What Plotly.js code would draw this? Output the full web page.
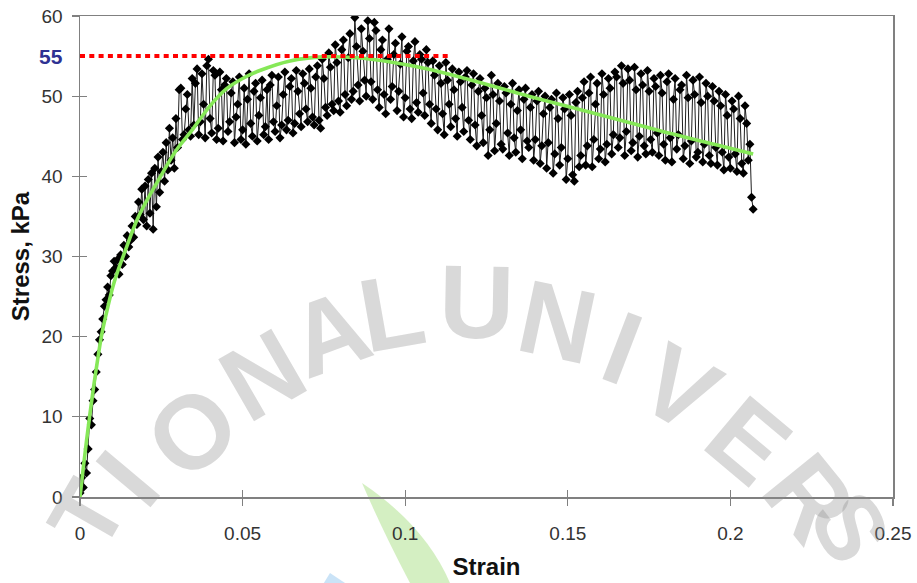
<!DOCTYPE html>
<html>
<head>
<meta charset="utf-8">
<script src="https://cdn.plot.ly/plotly-3.0.1.min.js"></script>
<style>
  html, body { margin: 0; padding: 0; background: #ffffff; }
  #chart { width: 917px; height: 583px; }
</style>
</head>
<body>
<div id="chart"></div>
<script>
// Unconfined compression test: measured stress vs. axial strain
const strainStart = 0;
const strainStep = 0.0005;

const stress = [
  0.5, 2.4, 1.2, 4.2, 3.0, 6.0, 9.8, 9.0, 12.0, 13.4,
  15.6, 17.8, 19.6, 20.6, 22.2, 23.8, 24.6, 26.2, 25.2, 27.6,
  28.2, 29.4, 28.6, 29.6, 27.8, 30.2, 29.0, 31.4, 30.0, 32.6,
  31.2, 32.0, 33.8, 32.4, 35.0, 34.0, 36.8, 35.2, 38.4, 34.6,
  38.8, 33.8, 39.6, 35.4, 40.4, 33.4, 41.0, 36.2, 42.4, 38.0,
  40.6, 43.0, 39.4, 44.2, 40.8, 46.0, 42.0, 44.8, 41.0, 47.2,
  43.6, 50.8, 51.0, 44.6, 45.2, 48.4, 50.2, 45.8, 45.0, 52.2,
  46.4, 51.6, 53.4, 45.2, 46.8, 52.8, 49.0, 44.8, 53.8, 54.6,
  47.2, 45.4, 53.2, 52.6, 44.6, 46.0, 53.0, 50.8, 44.4, 51.4,
  52.2, 45.6, 46.8, 50.4, 51.8, 44.2, 47.4, 49.0, 52.4, 44.6,
  45.8, 51.0, 44.0, 49.6, 52.8, 46.6, 45.0, 50.6, 51.6, 44.4,
  47.6, 49.8, 52.0, 45.2, 46.2, 50.8, 44.6, 51.4, 52.6, 46.8,
  45.6, 48.8, 52.4, 44.8, 46.4, 50.2, 53.0, 45.8, 47.0, 51.2,
  52.2, 45.4, 46.6, 53.2, 50.6, 47.8, 46.2, 52.8, 51.6, 48.4,
  46.8, 53.4, 51.0, 47.4, 46.4, 52.4, 53.8, 47.0, 46.0, 54.6,
  52.2, 48.6, 47.6, 55.4, 53.6, 49.0, 48.2, 56.4, 54.2, 49.4,
  48.0, 55.8, 57.0, 50.2, 48.8, 54.8, 57.8, 49.6, 50.6, 59.8,
  56.2, 51.4, 49.4, 58.4, 55.6, 52.0, 50.0, 59.4, 57.2, 51.8,
  49.6, 59.2, 58.2, 50.8, 48.6, 55.8, 57.0, 50.2, 47.8, 54.6,
  58.4, 49.6, 51.2, 55.2, 56.6, 48.2, 50.6, 54.0, 57.4, 47.4,
  49.8, 55.6, 56.2, 48.4, 47.2, 54.4, 56.8, 49.2, 48.0, 55.2,
  54.6, 50.4, 47.6, 55.8, 54.2, 49.0, 46.6, 54.4, 52.6, 48.4,
  45.8, 53.8, 51.6, 47.8, 45.2, 54.2, 52.0, 49.0, 46.2, 53.4,
  50.8, 47.2, 45.0, 53.0, 51.8, 48.6, 45.6, 52.4, 53.2, 47.0,
  44.6, 51.4, 52.8, 46.4, 43.8, 50.6, 52.2, 47.6, 44.2, 51.0,
  49.8, 42.6, 45.8, 52.6, 50.2, 43.2, 46.6, 51.6, 49.4, 44.0,
  43.4, 51.2, 50.4, 45.4, 42.6, 49.0, 51.6, 44.8, 43.0, 48.2,
  50.8, 45.8, 42.2, 49.6, 51.0, 44.4, 43.6, 48.6, 50.2, 42.0,
  44.6, 49.4, 50.6, 41.6, 43.8, 47.8, 50.0, 41.0, 44.2, 48.6,
  49.6, 40.4, 42.8, 50.4, 47.2, 41.4, 43.6, 49.8, 48.4, 39.6,
  42.2, 50.2, 47.6, 40.2, 39.4, 49.2, 50.6, 41.2, 42.6, 49.8,
  51.8, 41.4, 43.8, 50.4, 52.4, 41.2, 44.6, 49.0, 51.6, 42.2,
  43.4, 52.8, 50.2, 41.8, 44.0, 52.2, 51.0, 42.8, 45.2, 53.0,
  52.4, 43.6, 44.8, 53.8, 51.6, 42.6, 45.6, 53.4, 52.0, 43.2,
  44.2, 53.6, 50.8, 42.4, 45.0, 52.8, 51.4, 43.8, 42.8, 53.2,
  50.6, 44.6, 43.0, 52.2, 51.2, 45.4, 42.6, 52.6, 50.4, 44.0,
  42.0, 51.8, 52.8, 44.8, 41.8, 49.6, 52.2, 43.4, 45.2, 50.8,
  51.4, 42.2, 43.8, 52.6, 49.8, 41.6, 44.4, 52.0, 50.2, 42.4,
  43.0, 52.4, 49.2, 41.8, 44.0, 51.6, 50.0, 42.6, 41.6, 51.2,
  49.4, 43.6, 41.4, 50.6, 48.8, 43.0, 40.8, 50.2, 47.6, 42.4,
  41.0, 49.4, 48.4, 42.8, 40.6, 50.0, 47.2, 41.6, 40.4, 48.8,
  46.6, 42.0, 44.0, 37.4, 35.9
];

// Smoothed trend curve through the measurements
const fitStrain = [0, 0.001, 0.002, 0.003, 0.004, 0.005, 0.0067, 0.0085, 0.0105, 0.0138,
  0.018, 0.0245, 0.0295, 0.0347, 0.04, 0.045, 0.05, 0.0553, 0.0646, 0.075,
  0.085, 0.095, 0.108, 0.123, 0.138, 0.156, 0.17, 0.182, 0.195, 0.207];
const fitStress = [0, 3.6, 7.0, 10.2, 13.2, 16.0, 20.3, 23.6, 26.8, 30.6,
  35.0, 39.8, 43.2, 45.9, 48.8, 50.9, 52.2, 53.2, 54.4, 54.9,
  54.8, 54.3, 53.3, 51.7, 50.0, 48.1, 46.6, 45.3, 44.0, 42.8];

// Peak strength reference level
const peakStrain = [0, 0.114];
const peakStress = [55, 55];
const peakLabel = '55';

const xTickVals = [0, 0.05, 0.1, 0.15, 0.2, 0.25];
const xTickText = ['0', '0.05', '0.1', '0.15', '0.2', '0.25'];
const yTickVals = [0, 10, 20, 30, 40, 50, 60];

// Faint arc lettering in the background
const markLetters = ['T', 'I', 'O', 'N', 'A', 'L', 'U', 'N', 'I', 'V', 'E', 'R', 'S'];
// [x, y, angle, size]
const markPlacement = [
  [0.0098, -0.0374, -60, 94], [0.0590, 0.0395, -50, 104], [0.1378, 0.1351, -40, 104],
  [0.2239, 0.2536, -30, 104], [0.3075, 0.3410, -20, 104], [0.3838, 0.3846, -10, 104],
  [0.4871, 0.4054, 1, 104], [0.5879, 0.3638, 12, 104], [0.6667, 0.3098, 21, 104],
  [0.7380, 0.2266, 30, 104], [0.8217, 0.1185, 40, 104], [0.8979, -0.0021, 51, 104],
  [0.9471, -0.0644, 62, 94]
];

const FONT = 'Liberation Sans, Arial, Helvetica, sans-serif';
const AXIS_GREY = '#808080';

const measured = {
  type: 'scatter',
  mode: 'lines+markers',
  x0: strainStart,
  dx: strainStep,
  y: stress,
  line: { color: '#1e1e1e', width: 1 },
  marker: { symbol: 'diamond', size: 7, color: '#000000' },
  hoverinfo: 'skip',
  showlegend: false
};

const trend = {
  type: 'scatter',
  mode: 'lines',
  x: fitStrain,
  y: fitStress,
  xaxis: 'x2',
  yaxis: 'y2',
  line: { color: '#86e858', width: 3.6, shape: 'spline', smoothing: 1 },
  hoverinfo: 'skip',
  showlegend: false
};

const peak = {
  type: 'scatter',
  mode: 'lines',
  x: peakStrain,
  y: peakStress,
  xaxis: 'x2',
  yaxis: 'y2',
  line: { color: '#ff0000', width: 4, dash: '5px,4.3px' },
  hoverinfo: 'skip',
  showlegend: false
};

const tickFont = { family: FONT, size: 19, color: '#333333' };

const baseX = {
  range: [0, 0.25],
  tickvals: xTickVals,
  showgrid: false,
  zeroline: false,
  fixedrange: true
};
const baseY = {
  range: [0, 60],
  tickvals: yTickVals,
  showgrid: false,
  zeroline: false,
  fixedrange: true
};

const annotations = markLetters.map((ch, i) => ({
  text: ch,
  xref: 'paper', yref: 'paper',
  x: markPlacement[i][0], y: markPlacement[i][1],
  xanchor: 'center', yanchor: 'middle',
  textangle: markPlacement[i][2],
  showarrow: false,
  font: { family: FONT, size: markPlacement[i][3], weight: 'bold', color: 'rgba(140,140,140,0.33)' }
}));

annotations.push({
  text: peakLabel,
  xref: 'paper', yref: 'y',
  x: 0, y: 55,
  xanchor: 'right', yanchor: 'middle',
  xshift: -15,
  showarrow: false,
  font: { family: FONT, size: 21, weight: 'bold', color: '#2e3192' }
});

const layout = {
  width: 917,
  height: 583,
  margin: { l: 80, r: 24, t: 16, b: 86 },
  paper_bgcolor: '#ffffff',
  plot_bgcolor: 'rgba(0,0,0,0)',
  showlegend: false,
  xaxis: Object.assign({}, baseX, {
    ticktext: xTickText,
    ticks: 'outside', ticklen: 7, tickwidth: 1.3, tickcolor: AXIS_GREY,
    showline: true, linecolor: AXIS_GREY, linewidth: 1.5, mirror: true,
    tickfont: tickFont,
    ticklabelstandoff: 12,
    title: { text: 'Strain', font: { family: FONT, size: 24, weight: 'bold', color: '#111111' }, standoff: 15 }
  }),
  yaxis: Object.assign({}, baseY, {
    ticks: 'outside', ticklen: 7, tickwidth: 1.3, tickcolor: AXIS_GREY,
    showline: true, linecolor: AXIS_GREY, linewidth: 1.5, mirror: true,
    tickfont: tickFont,
    ticklabelstandoff: 5,
    title: { text: 'Stress, kPa', font: { family: FONT, size: 24, weight: 'bold', color: '#111111' }, standoff: 5 }
  }),
  xaxis2: Object.assign({}, baseX, {
    overlaying: 'x', anchor: 'y2', side: 'bottom',
    ticks: 'inside', ticklen: 7, tickwidth: 1.3, tickcolor: AXIS_GREY,
    showticklabels: false, showline: false
  }),
  yaxis2: Object.assign({}, baseY, {
    overlaying: 'y', anchor: 'x2', side: 'left',
    ticks: 'inside', ticklen: 7, tickwidth: 1.3, tickcolor: AXIS_GREY,
    showticklabels: false, showline: false
  }),
  shapes: [
    {
      type: 'path', xref: 'paper', yref: 'paper', layer: 'below',
      path: 'M 0.3469,0.0291 Q 0.425,-0.06 0.4551,-0.1788 L 0.4059,-0.1788 Q 0.372,-0.07 0.3469,0.0291 Z',
      fillcolor: 'rgba(160,220,120,0.45)', line: { width: 0 }
    },
    {
      type: 'path', xref: 'paper', yref: 'paper', layer: 'below',
      path: 'M 0.3075,-0.1580 Q 0.318,-0.1700 0.3260,-0.1788 L 0.3000,-0.1788 Z',
      fillcolor: 'rgba(150,200,240,0.5)', line: { width: 0 }
    }
  ],
  annotations: annotations
};

Plotly.newPlot('chart', [measured, trend, peak], layout, { staticPlot: true, displayModeBar: false });
</script>
</body>
</html>
